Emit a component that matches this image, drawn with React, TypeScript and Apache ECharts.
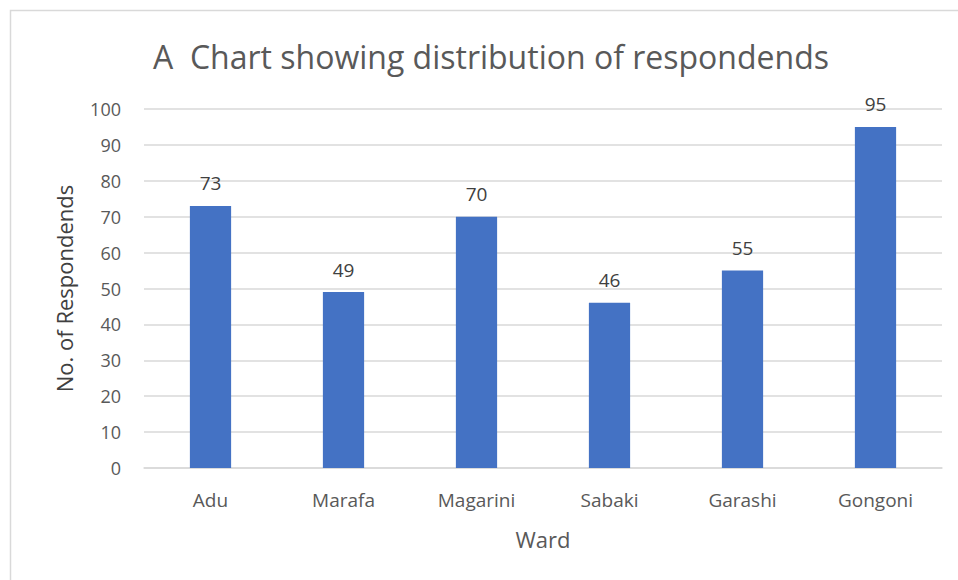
import React, { useEffect, useRef } from "react";
import * as echarts from "echarts";

const wards = ["Adu", "Marafa", "Magarini", "Sabaki", "Garashi", "Gongoni"];
const respondents = [73, 49, 70, 46, 55, 95];
const titleText = "A  Chart showing distribution of respondends";

export default function App() {
  const ref = useRef<HTMLDivElement>(null);
  useEffect(() => {
    if (!ref.current) return;
    const chart = echarts.init(ref.current, null, { renderer: "svg" });
    const font = "'Open Sans', 'Noto Sans', sans-serif";
    chart.setOption({
      animation: false,
      backgroundColor: "#ffffff",
      textStyle: { fontFamily: font },
      graphic: [
        {
          type: "rect",
          shape: { x: 10.5, y: 10.5, width: 1000, height: 700 },
          style: { fill: "none", stroke: "#d9d9d9", lineWidth: 1.5 },
          silent: true,
        },
        {
          type: "text",
          x: 491,
          y: 56,
          style: {
            text: titleText,
            fill: "#595959",
            font: `32px ${font}`,
            textAlign: "center",
            textVerticalAlign: "middle",
          },
        },
      ],
      grid: { left: 144, right: 16, top: 109, bottom: 112, containLabel: false },
      xAxis: {
        type: "category",
        data: wards,
        name: "Ward",
        nameLocation: "middle",
        nameGap: 60,
        nameTextStyle: { color: "#595959", fontSize: 22, fontFamily: font },
        axisLine: { lineStyle: { color: "#d9d9d9", width: 1.5 } },
        axisTick: { show: false },
        axisLabel: { color: "#595959", fontSize: 19, margin: 22, fontFamily: font },
      },
      yAxis: {
        type: "value",
        min: 0,
        max: 100,
        interval: 10,
        name: "No. of Respondends",
        nameLocation: "middle",
        nameGap: 69,
        nameTextStyle: { color: "#404040", fontSize: 22, fontFamily: font },
        axisLine: { show: false },
        axisTick: { show: false },
        axisLabel: { color: "#595959", fontSize: 18, margin: 23, fontFamily: font },
        splitLine: { lineStyle: { color: "#d9d9d9", width: 1.5 } },
      },
      series: [
        {
          type: "bar",
          data: respondents,
          barWidth: "31%",
          itemStyle: { color: "#4472c4" },
          label: {
            show: true,
            position: "top",
            distance: 13,
            color: "#404040",
            fontSize: 19,
            fontFamily: font,
          },
        },
      ],
    });
    return () => chart.dispose();
  }, []);
  return (
    <div
      ref={ref}
      style={{ position: "fixed", left: 0, top: 0, width: 958, height: 580 }}
    />
  );
}
